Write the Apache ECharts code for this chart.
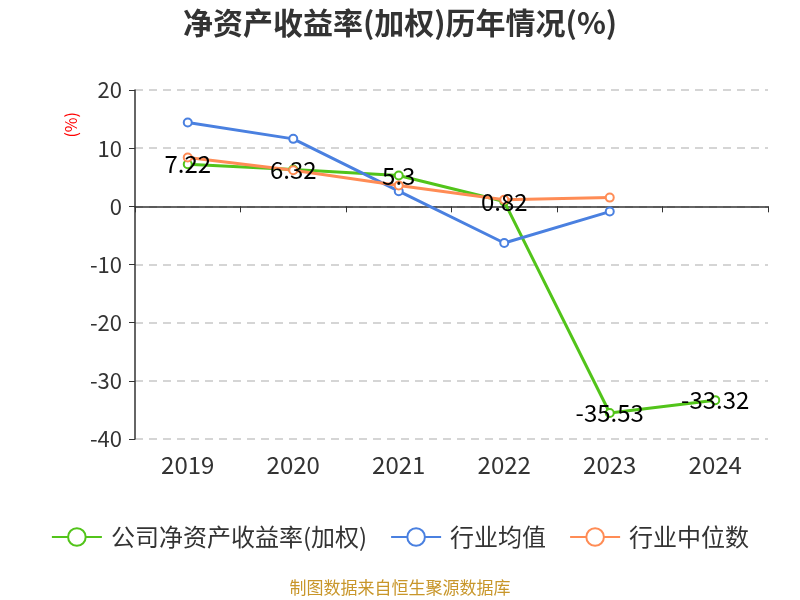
<!DOCTYPE html>
<html style="height: 100%">
<head>
<meta charset="utf-8">
<title>ECharts</title>
<script src="https://cdn.jsdelivr.net/npm/echarts@6/dist/echarts.min.js"></script>
</head>
<body style="height: 100%; margin: 0">
<div id="container" style="width: 800px; height: 600px"></div>
<script type="text/javascript">
var years = ['2019', '2020', '2021', '2022', '2023', '2024'];
var companyRoe = [7.22, 6.32, 5.3, 0.82, -35.53, -33.32];
var industryAvg = [14.4, 11.6, 2.6, -6.3, -0.9];
var industryMedian = [8.4, 6.2, 3.6, 1.15, 1.5];
var seriesNames = ['公司净资产收益率(加权)', '行业均值', '行业中位数'];
var colors = ['#52c41a', '#4a80e0', '#ff8c55'];

var font = 'Noto Sans CJK SC';
var myChart = echarts.init(document.getElementById('container'));

function makeLine(name, data, color, showLabel) {
	return {
		name: name,
		type: 'line',
		data: data,
		symbol: 'emptyCircle',
		symbolSize: 8,
		lineStyle: { width: 3, color: color },
		itemStyle: { color: color, borderWidth: 1.5 },
		label: {
			show: showLabel,
			position: 'inside',
			color: '#000',
			fontSize: 24,
			fontFamily: font
		}
	};
}

var option = {
	color: colors,
	animation: false,
	title: {
		text: '净资产收益率(加权)历年情况(%)',
		left: 'center',
		top: 3,
		textStyle: { fontSize: 30, fontWeight: 'bold', color: '#333', fontFamily: font }
	},
	grid: { left: 135, right: 32, top: 90, bottom: 161, containLabel: false, outerBoundsMode: 'none' },
	legend: {
		data: seriesNames,
		top: 520,
		left: 'center',
		itemWidth: 50,
		itemHeight: 22,
		itemGap: 23,
		textStyle: { fontSize: 24, color: '#333', fontFamily: font, padding: [0, 0, 0, 4] }
	},
	xAxis: [{
		// labels along the bottom of the grid
		type: 'category',
		data: years,
		position: 'bottom',
		axisLine: { show: false, onZero: false },
		axisTick: { show: false },
		axisLabel: { fontSize: 24, color: '#333', margin: 14, fontFamily: font }
	}, {
		// line and ticks on the zero line
		type: 'category',
		data: years,
		position: 'top',
		axisLine: { onZero: true, lineStyle: { color: '#333', width: 1.5 } },
		axisTick: { show: true, inside: true, length: 6, lineStyle: { color: '#333' } },
		axisLabel: { show: false }
	}],
	yAxis: {
		type: 'value',
		min: -40,
		max: 20,
		interval: 10,
		axisLine: { show: true, lineStyle: { color: '#333', width: 1.5 } },
		axisTick: { show: true, length: 6, lineStyle: { color: '#333' } },
		axisLabel: { fontSize: 22, color: '#333', margin: 13, fontFamily: font },
		splitLine: { lineStyle: { type: [8, 6], color: '#c8c8c8', width: 1.5 } }
	},
	graphic: [{
		type: 'text',
		left: 63,
		top: 112,
		rotation: Math.PI / 2,
		style: { text: '(%)', fill: '#ff0000', fontSize: 16, fontFamily: font }
	}, {
		type: 'text',
		left: 'center',
		top: 579,
		style: { text: '制图数据来自恒生聚源数据库', fill: '#c8962a', fontSize: 17, fontFamily: font }
	}],
	series: [
		makeLine(seriesNames[0], companyRoe, colors[0], true),
		makeLine(seriesNames[1], industryAvg, colors[1], false),
		makeLine(seriesNames[2], industryMedian, colors[2], false)
	]
};

myChart.setOption(option);
</script>
</body>
</html>
